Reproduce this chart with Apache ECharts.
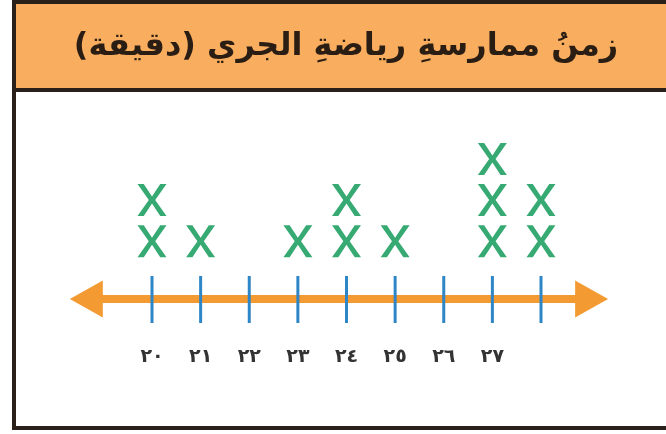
<!DOCTYPE html>
<html>
<head>
<meta charset="utf-8">
<script src="https://cdn.jsdelivr.net/npm/echarts@6/dist/echarts.min.js"></script>
<style>
  html, body { margin: 0; padding: 0; background: #fff; }
  #main { width: 666px; height: 434px; }
</style>
</head>
<body>
<div id="main"></div>
<script>
// data
var titleText = '\u200Fزمنُ ممارسةِ رياضةِ الجري (دقيقة)\u200F';
var minutes = [20, 21, 22, 23, 24, 25, 26, 27, 28];
var counts = [2, 1, 0, 1, 2, 1, 0, 3, 2];
var tickLabels = ['٢٠', '٢١', '٢٢', '٢٣', '٢٤', '٢٥', '٢٦', '٢٧', ''];
var arrowEnds = [18.31, 29.38];   // where the arrow tips sit, in minutes

var orange = '#F39A32';
var blue = '#2E86C6';
var green = '#36AA72';
var frame = '#2B2019';

// one X per count, stacked
var xMarks = [];
for (var i = 0; i < minutes.length; i++) {
  for (var n = 1; n <= counts[i]; n++) {
    xMarks.push([minutes[i], n]);
  }
}

var xPath = 'path://M0,0L6.5,0L15,12.5L23.5,0L30,0L18.3,16L30,32L23.5,32L15,19.5L6.5,32L0,32L11.7,16Z';

var myChart = echarts.init(document.getElementById('main'));

var option = {
  backgroundColor: '#fff',
  animation: false,
  title: {
    text: titleText,
    left: 341,
    top: 26,
    textAlign: 'center',
    textStyle: {
      fontFamily: 'DejaVu Sans',
      fontWeight: 'bold',
      fontSize: 32,
      color: '#2a1d14'
    }
  },
  graphic: [
    {
      type: 'rect', z: -10,
      shape: { x: 14, y: 2, width: 700, height: 426 },
      style: { fill: '#fff', stroke: frame, lineWidth: 4 }
    },
    {
      type: 'rect', z: -9,
      shape: { x: 14, y: 2, width: 700, height: 88 },
      style: { fill: '#F9AD5E', stroke: frame, lineWidth: 4 }
    }
  ],
  grid: { left: 152, right: 125, top: 118, bottom: 135 },
  xAxis: {
    type: 'value',
    min: 20,
    max: 28,
    interval: 1,
    axisLine: { show: false },
    axisTick: { show: false },
    splitLine: { show: false },
    axisLabel: {
      margin: 49,
      fontFamily: 'DejaVu Sans',
      fontWeight: 'bold',
      fontSize: 19,
      color: '#333',
      formatter: function (v) {
        var k = minutes.indexOf(v);
        return k < 0 ? '' : tickLabels[k];
      }
    }
  },
  yAxis: {
    type: 'value',
    min: -0.41,
    max: 4,
    show: false,
    splitLine: { show: false }
  },
  series: [
    {
      // number line with arrow heads
      type: 'custom',
      clip: false,
      silent: true,
      z: 2,
      data: [arrowEnds],
      renderItem: function (params, api) {
        var cs = params.coordSys;
        var y = cs.y + cs.height;
        var x0 = api.coord([api.value(0), 0])[0];
        var x1 = api.coord([api.value(1), 0])[0];
        var len = 33, half = 18.5;
        return {
          type: 'group',
          children: [
            { type: 'rect', shape: { x: x0 + 20, y: y - 4, width: x1 - x0 - 40, height: 8 }, style: { fill: orange } },
            { type: 'polygon', shape: { points: [[x0, y], [x0 + len, y - half], [x0 + len, y + half]] }, style: { fill: orange } },
            { type: 'polygon', shape: { points: [[x1, y], [x1 - len, y - half], [x1 - len, y + half]] }, style: { fill: orange } }
          ]
        };
      }
    },
    {
      // blue tick marks crossing the line
      type: 'custom',
      clip: false,
      silent: true,
      z: 3,
      data: minutes,
      renderItem: function (params, api) {
        var cs = params.coordSys;
        var y = cs.y + cs.height;
        var x = api.coord([api.value(0), 0])[0];
        return {
          type: 'line',
          shape: { x1: x, y1: y - 23, x2: x, y2: y + 24 },
          style: { stroke: blue, lineWidth: 3 }
        };
      }
    },
    {
      type: 'scatter',
      data: xMarks,
      symbol: xPath,
      symbolSize: [29, 32],
      itemStyle: { color: green, opacity: 1 },
      z: 4
    }
  ]
};

myChart.setOption(option);
</script>
</body>
</html>
